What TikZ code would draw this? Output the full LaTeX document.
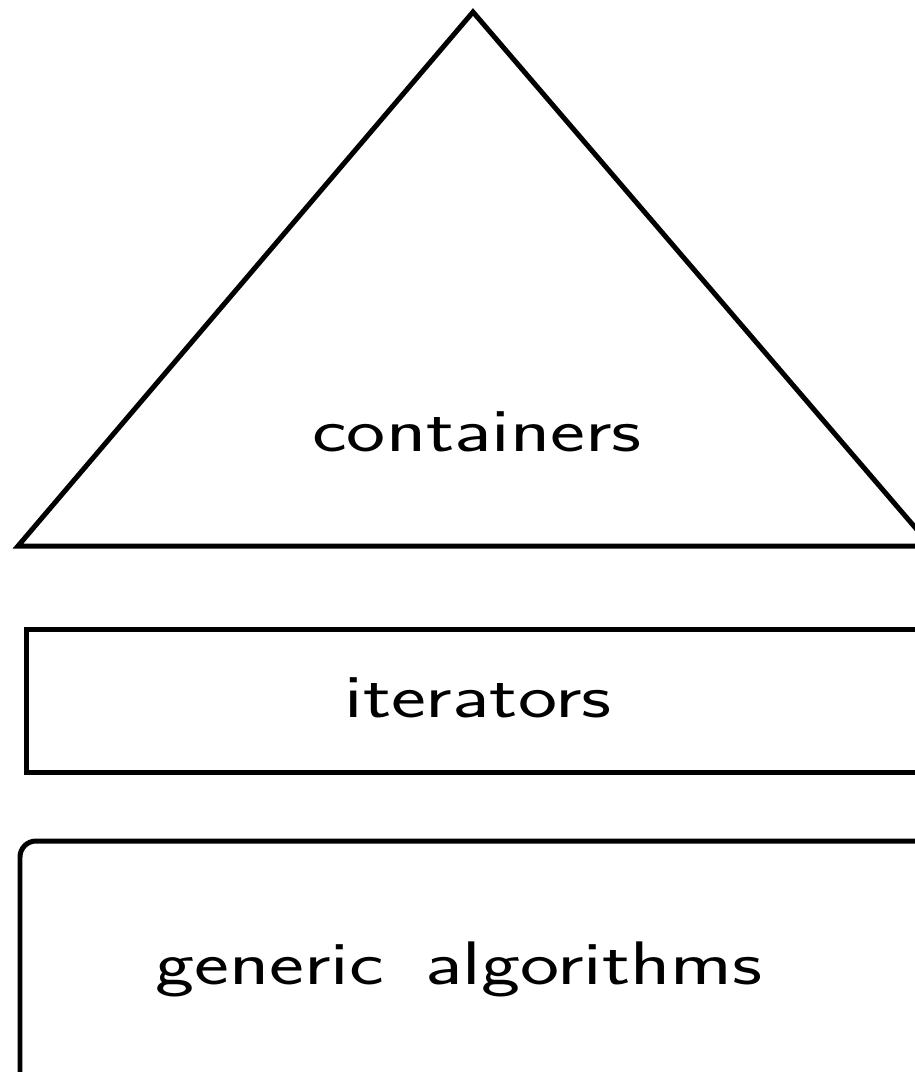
\documentclass[tikz,border=0pt]{standalone}
\usepackage{graphicx}
\usepackage{tikz}

\newcommand{\widelabel}[1]{\scalebox{1.35}[1]{#1}}

\tikzset{
  layer/.style={draw, line width=0.1cm},
  label text/.style={font=\sffamily\fontsize{35}{42}\selectfont, anchor=base}
}

\begin{document}
\begin{tikzpicture}[x=0.02cm, y=-0.02cm]
    \useasboundingbox (0,0) rectangle (915,1072);
    % top layer
    \coordinate (apex) at (473,12);
    \coordinate (baseL) at (18,546);
    \coordinate (baseR) at (931,546);
    \draw[layer, line join=miter] (apex) -- (baseR) -- (baseL) -- cycle;
    \node[label text] (containers) at (477,451) {\widelabel{containers}};
    % middle layer
    \draw[layer] (26.5,629.5) rectangle (928,772.5);
    \node[label text] (iterators) at (478,717) {\widelabel{iterators}};
    % bottom layer
    \draw[layer, rounded corners=0.32cm] (20,841) rectangle (930,1090);
    \node[label text] (algorithms) at (459,984) {\widelabel{generic\hspace{0.5em}algorithms}};
\end{tikzpicture}
\end{document}
